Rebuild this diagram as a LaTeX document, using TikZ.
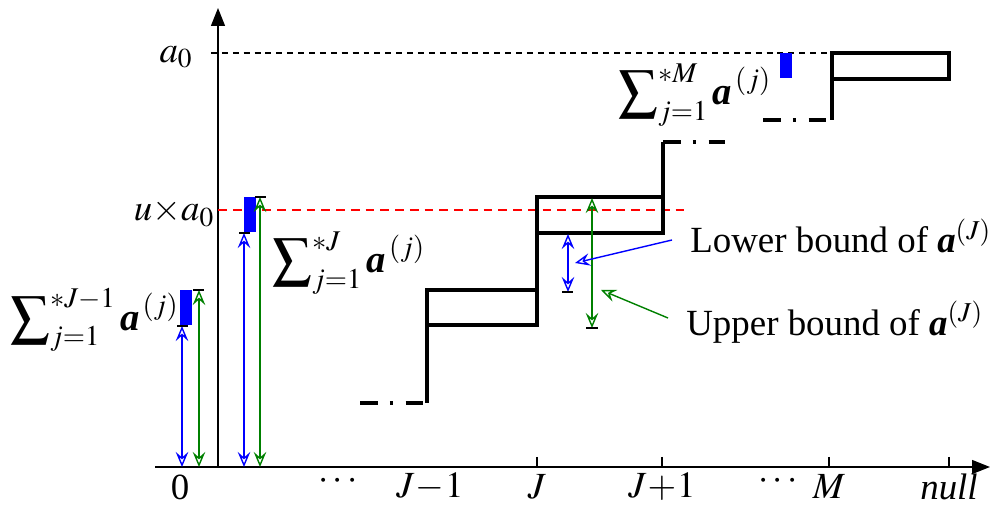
\documentclass[tikz,border=0pt]{standalone}
\usepackage{amsmath}
\usepackage{mathptmx}
\usepackage[no-math]{fontspec}
\setmainfont{Liberation Serif}
\usepackage{xcolor}
\usetikzlibrary{arrows.meta,positioning,calc}
\definecolor{ubgreen}{RGB}{0,128,0}
\newcommand{\va}{\text{\bfseries\itshape a}}
\newcommand{\psum}[1]{$\displaystyle\sum\nolimits_{j=1}^{*#1}\va^{\,(j)}$}
\tikzset{
  >={Stealth[open,length=3mm,width=2.5mm,inset=1.1mm]},
  axis/.style={line width=0.8pt, -{Triangle[length=3.6mm,width=2.8mm]}},
  stair/.style={line width=1.8pt},
  gapline/.style={line width=1.8pt, dash pattern=on 10pt off 7pt on 2pt off 7pt},
  bar/.style={fill=blue},
  lo/.style={blue, line width=0.8pt},
  hi/.style={ubgreen, line width=0.8pt},
  endtick/.style={line width=1.2pt},
  lbl/.style={font=\fontsize{21}{25}\selectfont, inner sep=0pt},
  sumlbl/.style={font=\fontsize{22}{26}\selectfont, inner sep=0pt, anchor=west},
}
\begin{document}
\begin{tikzpicture}[x=0.02cm, y=-0.02cm]
  \useasboundingbox (0,0) rectangle (992,506);
  % axes
  \coordinate (xs) at (155,467);
  \coordinate (xe) at (990,467);
  \coordinate (ys) at (218,467);
  \coordinate (ye) at (218,8);
  \draw[axis] (xs) -- (xe);
  \draw[axis] (ys) -- (ye);
  \foreach \x in {537,662,829,949} \draw[line width=0.6pt] (\x,457) -- (\x,467);
  \node[lbl] (l0)   at (180,487) {0};
  \node[lbl] (dt1)  at (340,481) {$\cdots$};
  \node[lbl] (lJm)  at (430,487) {$J\!-\!1$};
  \node[lbl] (lJ)   at (537,487) {$J$};
  \node[lbl] (lJp)  at (662,487) {$J\!+\!1$};
  \node[lbl] (dt2)  at (780,481) {$\cdots$};
  \node[lbl] (lM)   at (829,487) {$M$};
  \node[lbl] (lnul) at (949,487) {\textit{null}};
  % levels
  \node[lbl] (la0) at (176,57)  {$a_0$};
  \node[lbl] (lua) at (174,213) {$u{\times}a_0$};
  \draw[line width=0.6pt, dash pattern=on 3.4pt off 2.8pt] (211,53) -- (832,53);
  \draw[red, line width=0.8pt, dash pattern=on 5pt off 3.4pt] (218,210) -- (688,210);
  % staircase
  \draw[gapline] (360,403) -- (427,403);
  \draw[stair] (427,403) -- (427,290);
  \draw[stair] (427,290) rectangle (537,325);
  \draw[stair] (537,325) -- (537,197);
  \draw[stair] (537,197) rectangle (663,233);
  \draw[stair] (663,233) -- (663,142);
  \draw[gapline] (663,142) -- (725,142);
  \draw[gapline] (763,120) -- (832,120);
  \draw[stair] (832,120) -- (832,53);
  \draw[stair] (832,53) rectangle (949,79);
  % partial sums
  \fill[bar] (180,290) rectangle (192,325);
  \fill[bar] (244,197) rectangle (256,232);
  \fill[bar] (780,53) rectangle (792,78);
  \node[sumlbl] (s1) at (10,320)  {\psum{J-1}};
  \node[sumlbl] (s2) at (272,263) {\psum{J}};
  \node[sumlbl] (s3) at (618,95)  {\psum{M}};
  % bound arrows
  \draw[lo, <->] (182,326) -- (182,467);
  \draw[endtick] (177,326) -- (188,326);
  \draw[hi, <->] (199,290) -- (199,467);
  \draw[endtick] (193,290) -- (204,290);
  \draw[lo, <->] (244,233) -- (244,467);
  \draw[endtick] (239,233) -- (250,233);
  \draw[hi, <->] (260,197) -- (260,467);
  \draw[endtick] (255,197) -- (266,197);
  \draw[lo, <->] (568,234) -- (568,292);
  \draw[endtick] (562,292) -- (573,292);
  \draw[hi, <->] (592,198) -- (592,328);
  \draw[endtick] (586,328) -- (598,328);
  % notes
  \node[lbl, anchor=west] (lower) at (690,236) {Lower bound of $\va^{(J)}$};
  \node[lbl, anchor=west] (upper) at (686,322) {Upper bound of $\va^{(J)}$};
  \coordinate (lotip) at (575,263);
  \coordinate (hitip) at (601,290);
  \draw[lo, ->] ($(lower.west)+(-18,4)$) -- (lotip);
  \draw[hi, ->] ($(upper.west)+(-18,-4)$) -- (hitip);
\end{tikzpicture}
\end{document}
